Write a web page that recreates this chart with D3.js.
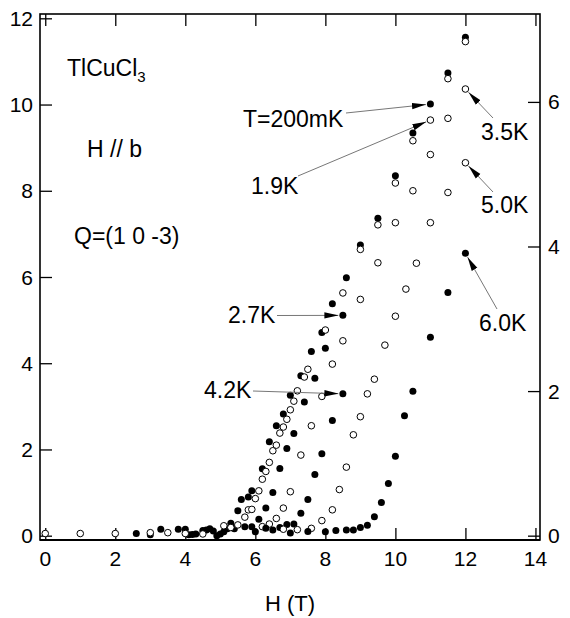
<!DOCTYPE html>
<html>
<head>
<meta charset="utf-8">
<script src="https://cdn.jsdelivr.net/npm/d3@7"></script>
<style>
    body { margin: 0; background: #fff; }
    text { font-family: "Liberation Sans", Arial, sans-serif; fill: #000; }
</style>
</head>
<body>
<script>
// data: [H (T), intensity]
var t200mK = [[2.6,0.05],[3.0,0.02],[3.3,0.15],[3.8,0.15],[4.0,0.15],[4.1,0.02],[4.2,0.03],[4.3,0.04],[4.5,0.12],[4.6,0.13],[4.7,0.16],[4.8,0.11],[4.9,0.0],[5.0,0.04],[5.1,0.09],[5.2,0.16],[5.3,0.29],[5.4,0.16],[5.5,0.58],[5.6,0.84],[5.8,0.90],[5.9,1.04],[6.2,1.55],[6.4,2.18],[6.6,2.55],[6.8,2.82],[7.0,3.26],[7.3,3.71],[7.6,4.27],[7.9,4.71],[8.2,5.38],[8.6,5.98],[9.0,6.74],[9.5,7.36],[10.0,8.35],[10.5,9.34],[11.0,10.01],[11.5,10.73],[12.0,11.56]];
var t1_9K = [[0,0.05],[1,0.05],[2,0.05],[3,0.07],[3.5,0.07],[4.0,0.05],[4.5,0.04],[5.1,0.23],[5.3,0.19],[5.5,0.25],[5.7,0.43],[5.8,0.60],[5.9,0.61],[6.0,0.86],[6.1,1.04],[6.2,1.31],[6.3,1.49],[6.4,1.70],[6.5,1.97],[6.6,2.10],[6.7,2.38],[6.8,2.52],[6.9,2.70],[7.0,2.92],[7.1,3.12],[7.2,3.36],[7.4,3.68],[7.5,3.86],[8.0,4.77],[8.5,5.63],[9.0,6.64],[9.5,7.21],[10.0,8.18],[10.5,9.16],[11.0,9.64],[11.5,10.6],[12.0,11.46]];
var t2_7K = [[5.7,0.21],[5.9,0.21],[6.1,0.38],[6.3,0.64],[6.5,1.0],[6.7,1.56],[6.9,2.02],[7.1,2.37],[7.4,3.1],[7.7,3.65],[8.0,4.35],[8.5,5.11]];
var t3_5K = [[6.2,0.21],[6.4,0.27],[6.6,0.40],[6.8,0.64],[7.0,1.02],[7.3,1.87],[7.6,2.55],[7.9,3.23],[8.2,3.98],[8.5,4.52],[9.0,5.48],[9.5,6.33],[10.0,7.26],[10.5,8.0],[11.0,8.84],[11.5,9.68],[12.0,10.36]];
var t4_2K = [[6.3,0.17],[6.5,0.13],[6.7,0.19],[6.9,0.26],[7.1,0.27],[7.3,0.52],[7.5,0.84],[7.7,1.42],[7.9,1.90],[8.2,2.67],[8.5,3.29]];
var t5_0K = [[6.8,0.15],[7.2,0.14],[7.6,0.17],[7.9,0.35],[8.2,0.60],[8.4,1.07],[8.6,1.59],[8.8,2.34],[9.0,2.76],[9.2,3.29],[9.4,3.63],[9.7,4.42],[10.0,5.09],[10.3,5.72],[10.6,6.32],[11.0,7.26],[11.5,7.96],[12.0,8.65]];
var t6_0K = [[6.0,0.09],[7.0,0.06],[7.5,0.10],[8.0,0.09],[8.3,0.12],[8.6,0.13],[8.8,0.13],[9.0,0.19],[9.2,0.24],[9.4,0.44],[9.6,0.77],[9.8,1.21],[10.0,1.84],[10.26,2.78],[10.5,3.35],[11.0,4.6],[11.5,5.64],[12.0,6.55]];

var xTicks = [0, 2, 4, 6, 8, 10, 12, 14];
var yTicks = [0, 2, 4, 6, 8, 10, 12];
var yRightTicks = [0, 2, 4, 6];

var W = 570, H = 618;
var pL = 40, pR = 540, pT = 14, pB = 540; //plot frame edges (window.top is taken)

var svg = d3.select("body").append("svg")
    .attr("width", W)
    .attr("height", H);

var x = d3.scaleLinear().domain([-0.15, 14.13]).range([pL, pR]);
var y = d3.scaleLinear().domain([-0.1, 12.1]).range([pB, pT]);
var yR = d3.scaleLinear().domain([-0.06, 7.216]).range([pB, pT]);

var tickLen = 12;

//axes, ticks pointing inward
var gB = svg.append("g").attr("transform", "translate(0," + pB + ")")
    .call(d3.axisTop(x).tickValues(xTicks).tickSize(tickLen).tickFormat(""));
var gT = svg.append("g").attr("transform", "translate(0," + pT + ")")
    .call(d3.axisBottom(x).tickValues(xTicks).tickSize(tickLen).tickFormat(""));
var gL = svg.append("g").attr("transform", "translate(" + pL + ",0)")
    .call(d3.axisRight(y).tickValues(yTicks).tickSize(tickLen).tickFormat(""));
var gR = svg.append("g").attr("transform", "translate(" + pR + ",0)")
    .call(d3.axisLeft(yR).tickValues(yRightTicks).tickSize(tickLen).tickFormat(""));
[gB, gT, gL, gR].forEach(function(g){
    g.select(".domain").remove();
    g.selectAll(".tick line").attr("stroke", "#000").attr("stroke-width", 1.3);
});

//frame
svg.append("rect")
    .attr("x", pL).attr("y", pT)
    .attr("width", pR - pL).attr("height", pB - pT)
    .attr("fill", "none")
    .attr("stroke", "#000")
    .attr("stroke-width", 1.6);
//bottom edge looks a bit heavier
svg.append("line")
    .attr("x1", pL).attr("x2", pR)
    .attr("y1", pB).attr("y2", pB)
    .attr("stroke", "#000")
    .attr("stroke-width", 2);

//tick labels
svg.selectAll(".xlab").data(xTicks).enter().append("text")
    .attr("x", function(d){ return x(d); })
    .attr("y", 566)
    .attr("text-anchor", "middle")
    .style("font-size", "21px")
    .text(function(d){ return d; });
svg.selectAll(".ylab").data(yTicks).enter().append("text")
    .attr("x", 33)
    .attr("y", function(d){ return y(d) + 7.5; })
    .attr("text-anchor", "end")
    .style("font-size", "21px")
    .text(function(d){ return d; });
svg.selectAll(".yrlab").data(yRightTicks).enter().append("text")
    .attr("x", 548)
    .attr("y", function(d){ return yR(d) + 7.5; })
    .style("font-size", "21px")
    .text(function(d){ return d; });

svg.append("text")
    .attr("x", (pL + pR) / 2)
    .attr("y", 611)
    .attr("text-anchor", "middle")
    .style("font-size", "22px")
    .text("H (T)");

//data points
var series = [
    {data: t200mK, filled: true},
    {data: t1_9K, filled: false},
    {data: t2_7K, filled: true},
    {data: t3_5K, filled: false},
    {data: t4_2K, filled: true},
    {data: t5_0K, filled: false},
    {data: t6_0K, filled: true}
];
series.forEach(function(s){
    svg.append("g").selectAll("circle")
        .data(s.data)
        .enter()
        .append("circle")
        .attr("cx", function(d){ return x(d[0]); })
        .attr("cy", function(d){ return y(d[1]); })
        .attr("r", s.filled ? 3.5 : 3.3)
        .attr("fill", s.filled ? "#000" : "#fff")
        .attr("stroke", "#000")
        .attr("stroke-width", s.filled ? 0 : 1);
});

//sample info
var info = svg.append("text").attr("x", 67).attr("y", 76).style("font-size", "23px");
info.append("tspan").text("TlCuCl");
info.append("tspan").attr("dy", 6).style("font-size", "15px").text("3");
svg.append("text").attr("x", 87).attr("y", 157).style("font-size", "23px").text("H // b");
svg.append("text").attr("x", 74).attr("y", 244).style("font-size", "23px").text("Q=(1 0 -3)");

//arrowhead
svg.append("defs").append("marker")
    .attr("id", "head")
    .attr("markerUnits", "userSpaceOnUse")
    .attr("viewBox", "0 -4 14 8")
    .attr("refX", 14).attr("refY", 0)
    .attr("markerWidth", 14).attr("markerHeight", 8)
    .attr("orient", "auto")
    .append("path")
    .attr("d", "M0,-3.2L14,0L0,3.2Z")
    .attr("fill", "#000");

//temperature labels: text spot, line start, and the point the arrow hits
var notes = [
    {text: "T=200mK", tx: 243, ty: 127, sx: 346, sy: 113, p: t200mK[36]},
    {text: "1.9K", tx: 251, ty: 194, sx: 298, sy: 176, p: t1_9K[34]},
    {text: "3.5K", tx: 481, ty: 140, sx: 493, sy: 118, p: t3_5K[16]},
    {text: "5.0K", tx: 481, ty: 213, sx: 493, sy: 192, p: t5_0K[17]},
    {text: "6.0K", tx: 479, ty: 331, sx: 497, sy: 309, p: t6_0K[17]},
    {text: "2.7K", tx: 228, ty: 323, sx: 277, sy: 315.5, p: t2_7K[11]},
    {text: "4.2K", tx: 204, ty: 398, sx: 253, sy: 391, p: t4_2K[10]}
];
notes.forEach(function(n){
    var px = x(n.p[0]), py = y(n.p[1]);
    var dx = px - n.sx, dy = py - n.sy, len = Math.sqrt(dx * dx + dy * dy);
    var gap = 4.5;
    svg.append("line")
        .attr("x1", n.sx).attr("y1", n.sy)
        .attr("x2", px - dx / len * gap).attr("y2", py - dy / len * gap)
        .attr("stroke", "#777")
        .attr("stroke-width", 1)
        .attr("marker-end", "url(#head)");
    svg.append("text")
        .attr("x", n.tx).attr("y", n.ty)
        .style("font-size", "23px")
        .text(n.text);
});
</script>
</body>
</html>
